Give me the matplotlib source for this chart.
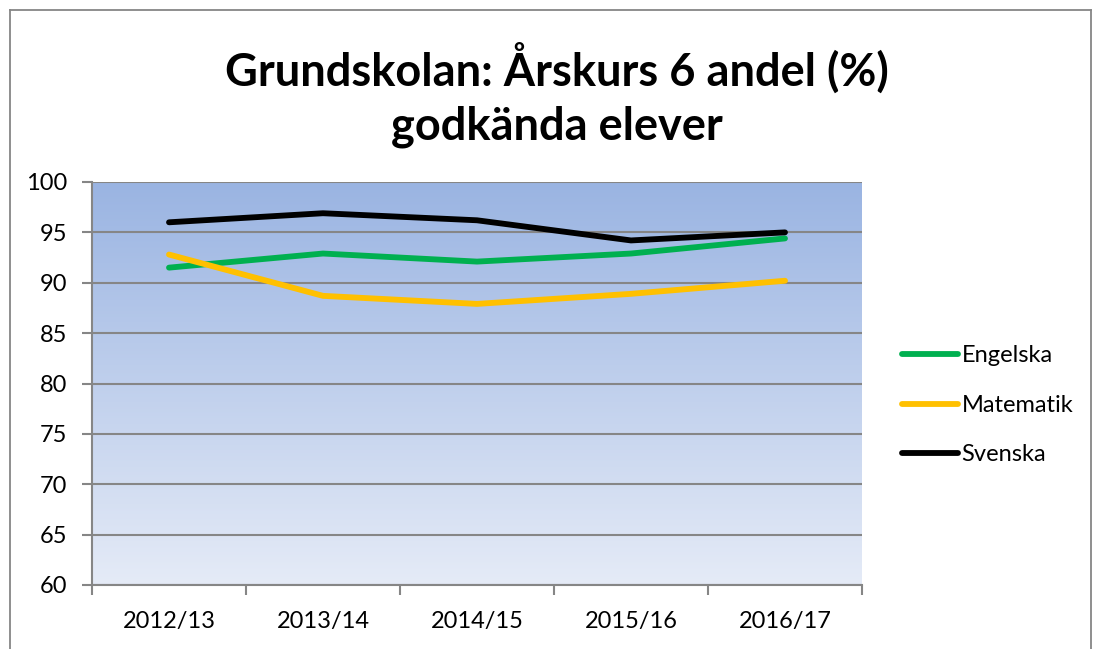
import numpy as np
import matplotlib
matplotlib.use("Agg")
import matplotlib.pyplot as plt
from matplotlib.lines import Line2D
from matplotlib.colors import LinearSegmentedColormap

years = ["2012/13", "2013/14", "2014/15", "2015/16", "2016/17"]
engelska = [91.5, 92.9, 92.1, 92.9, 94.4]
matematik = [92.8, 88.7, 87.9, 88.9, 90.2]
svenska = [96.0, 96.9, 96.2, 94.2, 95.0]
series_names = ["Engelska", "Matematik", "Svenska"]
series_colors = ["#00B050", "#FFC000", "#000000"]
title = "Grundskolan: Årskurs 6 andel (%)\ngodkända elever"
yticks = [60, 65, 70, 75, 80, 85, 90, 95, 100]

plt.rcParams['font.family'] = ['Lato', 'DejaVu Sans']

fig = plt.figure(figsize=(11.04, 6.49), dpi=100)
W, H = 1104, 649
ax = fig.add_axes([92 / W, 1 - 585 / H, 770 / W, 403 / H])

# gradient background
grad = np.linspace(0, 1, 256).reshape(-1, 1)
cmap = LinearSegmentedColormap.from_list("bg", ["#9AB4E2", "#E5EBF7"])
ax.imshow(grad, aspect='auto', cmap=cmap, extent=[0, 1, 0, 1],
          transform=ax.transAxes, zorder=0)

x = np.arange(len(years))
for vals, name, col in zip([engelska, matematik, svenska], series_names, series_colors):
    ax.plot(x, vals, color=col, lw=4.2, solid_capstyle='round',
            solid_joinstyle='round', label=name, zorder=3)

ax.set_xlim(-0.5, len(years) - 0.5)
ax.set_ylim(60, 100)
ax.set_yticks(yticks)
ax.set_yticklabels([str(v) for v in yticks], fontsize=17)
ax.set_xticks(np.arange(len(years) + 1) - 0.5)
ax.set_xticklabels([])
ax.set_xticks(x, minor=True)
ax.set_xticklabels(years, minor=True, fontsize=17)
ax.tick_params(axis='x', which='minor', length=0, pad=19)
ax.tick_params(axis='x', which='major', length=7, width=1.5, color='#868686', direction='out')
ax.tick_params(axis='y', length=7, width=1.5, color='#868686', direction='out', pad=11)
ax.grid(axis='y', color='#868686', lw=1.5, zorder=1)
ax.set_axisbelow(False)
for s in ['top', 'right']:
    ax.spines[s].set_visible(False)
for s in ['left', 'bottom']:
    ax.spines[s].set_color('#868686')
    ax.spines[s].set_linewidth(1.5)

fig.text(557 / W, 1 - 95 / H, title, ha='center', va='center',
         fontsize=32.5, fontweight='bold', linespacing=1.35)

handles = [Line2D([0], [0], color=c, lw=4.2, solid_capstyle='round') for c in series_colors]
fig.legend(handles, series_names, loc='upper left',
           bbox_to_anchor=(893 / W, 1 - 336 / H), frameon=False,
           fontsize=17, handlelength=2.35, handletextpad=0.15, labelspacing=1.2,
           borderaxespad=0)

# outer chart frame
fig.add_artist(Line2D([10 / W, 10 / W], [0, 1 - 10 / H], color='#868686', lw=1.3))
fig.add_artist(Line2D([10 / W, 1091 / W], [1 - 10 / H, 1 - 10 / H], color='#868686', lw=1.3))
fig.add_artist(Line2D([1091 / W, 1091 / W], [0, 1 - 10 / H], color='#868686', lw=1.3))

fig.savefig("out.png", dpi=100, facecolor='white')
